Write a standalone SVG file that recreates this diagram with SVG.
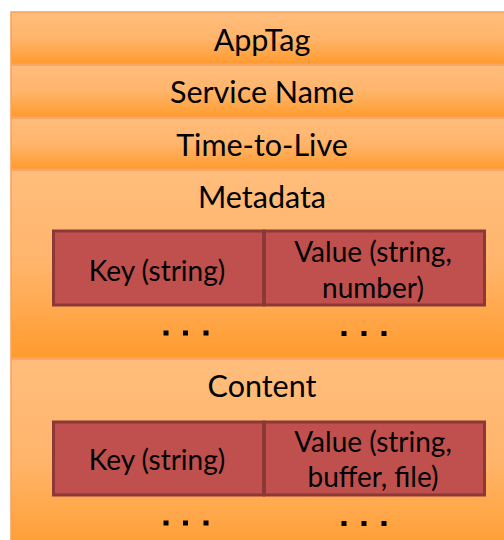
<svg xmlns="http://www.w3.org/2000/svg" width="504" height="540" viewBox="0 0 504 540">
<defs>
<linearGradient id="g" x1="0" y1="0" x2="0" y2="1">
<stop offset="0" stop-color="#FFBD7C"/>
<stop offset="0.5" stop-color="#FFB56B"/>
<stop offset="1" stop-color="#FF9B2E"/>
</linearGradient>
<style>
.row{fill:url(#g);stroke:#F9A05A;stroke-width:1.5}
.t{font-family:Lato,"Liberation Sans",sans-serif;font-size:30.5px;fill:#000;text-anchor:middle}
.s{font-family:Lato,"Liberation Sans",sans-serif;font-size:28px;fill:#000;text-anchor:middle}
.kv{fill:#C0504D;stroke:#8C3836;stroke-width:3}
.d{fill:#000}
</style>
</defs>
<rect x="0" y="0" width="504" height="540" fill="#fff"/>
<g id="apptag"><rect class="row" x="11" y="12" width="503" height="52"/><text class="t" x="262" y="51">AppTag</text></g>
<g id="service-name"><rect class="row" x="11" y="65" width="503" height="52"/><text class="t" x="262" y="103">Service Name</text></g>
<g id="ttl"><rect class="row" x="11" y="118" width="503" height="51"/><text class="t" x="262" y="156">Time-to-Live</text></g>
<g id="metadata"><rect class="row" x="11" y="170" width="503" height="188"/><text class="t" x="262" y="208">Metadata</text>
<g id="meta-key"><rect class="kv" x="53.5" y="231" width="210" height="74"/><text class="s" x="157" y="281">Key (string)</text></g>
<g id="meta-value"><rect class="kv" x="264.5" y="231" width="220" height="74"/><text class="s" x="373" y="262">Value (string,</text><text class="s" x="373" y="298">number)</text></g>
<g id="meta-dots"><rect class="d" x="163.5" y="330.5" width="5" height="5"/><rect class="d" x="183" y="330.5" width="5" height="5"/><rect class="d" x="203.5" y="330.5" width="5" height="5"/><rect class="d" x="341.5" y="331" width="5" height="5"/><rect class="d" x="361.5" y="331" width="5" height="5"/><rect class="d" x="381.5" y="331" width="5" height="5"/></g>
</g>
<g id="content"><rect class="row" x="11" y="359" width="503" height="200"/><text class="t" x="262" y="397">Content</text>
<g id="content-key"><rect class="kv" x="53.5" y="422" width="210" height="73"/><text class="s" x="157" y="470">Key (string)</text></g>
<g id="content-value"><rect class="kv" x="264.5" y="422" width="220" height="73"/><text class="s" x="373" y="452">Value (string,</text><text class="s" x="373" y="487">buffer, file)</text></g>
<g id="content-dots"><rect class="d" x="163.5" y="520.5" width="5" height="5"/><rect class="d" x="183" y="520.5" width="5" height="5"/><rect class="d" x="203.5" y="520.5" width="5" height="5"/><rect class="d" x="341.5" y="521" width="5" height="5"/><rect class="d" x="361.5" y="521" width="5" height="5"/><rect class="d" x="381.5" y="521" width="5" height="5"/></g>
</g>
<g id="connectors"></g>
</svg>
